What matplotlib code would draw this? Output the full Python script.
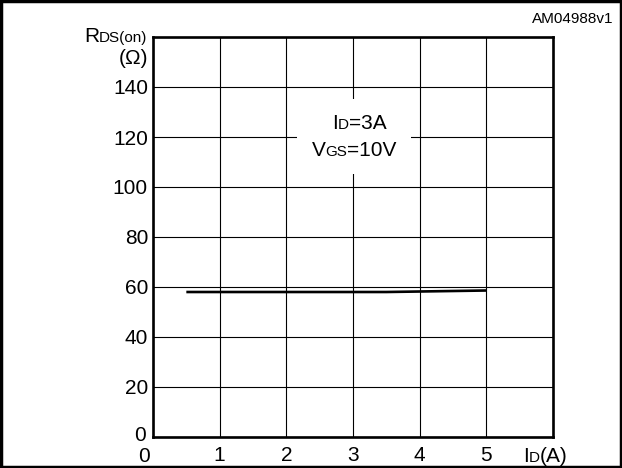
import matplotlib
matplotlib.use("Agg")
import matplotlib.pyplot as plt
from matplotlib.patches import Rectangle

plt.rcParams['font.family'] = ['Liberation Sans', 'DejaVu Sans']

# Data
current_A = [0.5, 1.0, 2.0, 3.0, 3.5, 4.0, 5.0]
rds_on_ohm = [58.0, 58.0, 58.0, 58.0, 58.0, 58.2, 58.6]
x_ticks = [1, 2, 3, 4, 5]
y_ticks = [20, 40, 60, 80, 100, 120, 140]

W, H = 622, 468
fig = plt.figure(figsize=(W / 100, H / 100), dpi=100)
renderer = fig.canvas.get_renderer()

def fx(px):
    return px / W

def fy(py):
    return 1 - py / H

L, R, T, B = 153, 553, 37, 437
ax = fig.add_axes([fx(L), fy(B), fx(R) - fx(L), fy(T) - fy(B)])
ax.set_xlim(0, 6)
ax.set_ylim(0, 160)
ax.set_xticks(range(0, 7))
ax.set_yticks(range(0, 161, 20))
ax.grid(True, color='black', linewidth=0.8)
ax.set_axisbelow(True)
ax.tick_params(length=0, labelleft=False, labelbottom=False)
for s in ax.spines.values():
    s.set_linewidth(1.9)
    s.set_color('black')

ax.plot(current_A, rds_on_ohm, color='black', linewidth=1.9, solid_capstyle='butt', zorder=3)

fs = 15
fss = 11

def ypx_of(v):
    return B - (B - T) * v / 160.0

def xpx_of(v):
    return L + (R - L) * v / 6.0

# tick labels
for v in y_ticks:
    fig.text(fx(148), fy(ypx_of(v)), str(v), ha='right', va='center_baseline', fontsize=fs)
for v in x_ticks:
    fig.text(fx(xpx_of(v)), fy(461), str(v), ha='center', va='baseline', fontsize=fs)
fig.text(fx(146), fy(441), "0", ha='right', va='baseline', fontsize=fs)
fig.text(fx(144), fy(462), "0", ha='center', va='baseline', fontsize=fs)

# white box behind annotation
ax.add_patch(Rectangle((2.16, 105.2), 1.71, 30.0, facecolor='white', edgecolor='none', zorder=2))

def rich(xpx, ypx, parts, ha='left'):
    texts = [fig.text(0, 0, t, fontsize=s, ha='left', va='baseline', zorder=5) for t, s in parts]
    widths = [t.get_window_extent(renderer).width for t in texts]
    total = sum(widths)
    cur = xpx - total / 2 if ha == 'center' else xpx
    for t, w in zip(texts, widths):
        t.set_position((fx(cur), fy(ypx)))
        cur += w

rich(359, 129, [("I", fs), ("D", fss), ("=3A", fs)], ha='center')
rich(354, 156, [("V", fs), ("GS", fss), ("=10V", fs)], ha='center')
rich(84, 42, [("R", fs), ("DS(on)", fss)])
fig.text(fx(133), fy(64), "(Ω)", ha='center', va='baseline', fontsize=fs)
rich(523, 462, [("I", fs), ("D", fss), ("(A)", fs)])

fig.text(fx(613), fy(23), "AM04988v1", ha='right', va='baseline', fontsize=11)

# outer frame
fig.add_artist(Rectangle((0.002, 0.002), 0.996, 0.996, transform=fig.transFigure,
                         fill=False, edgecolor='black', linewidth=2.5))

fig.savefig("out.png", dpi=100)
